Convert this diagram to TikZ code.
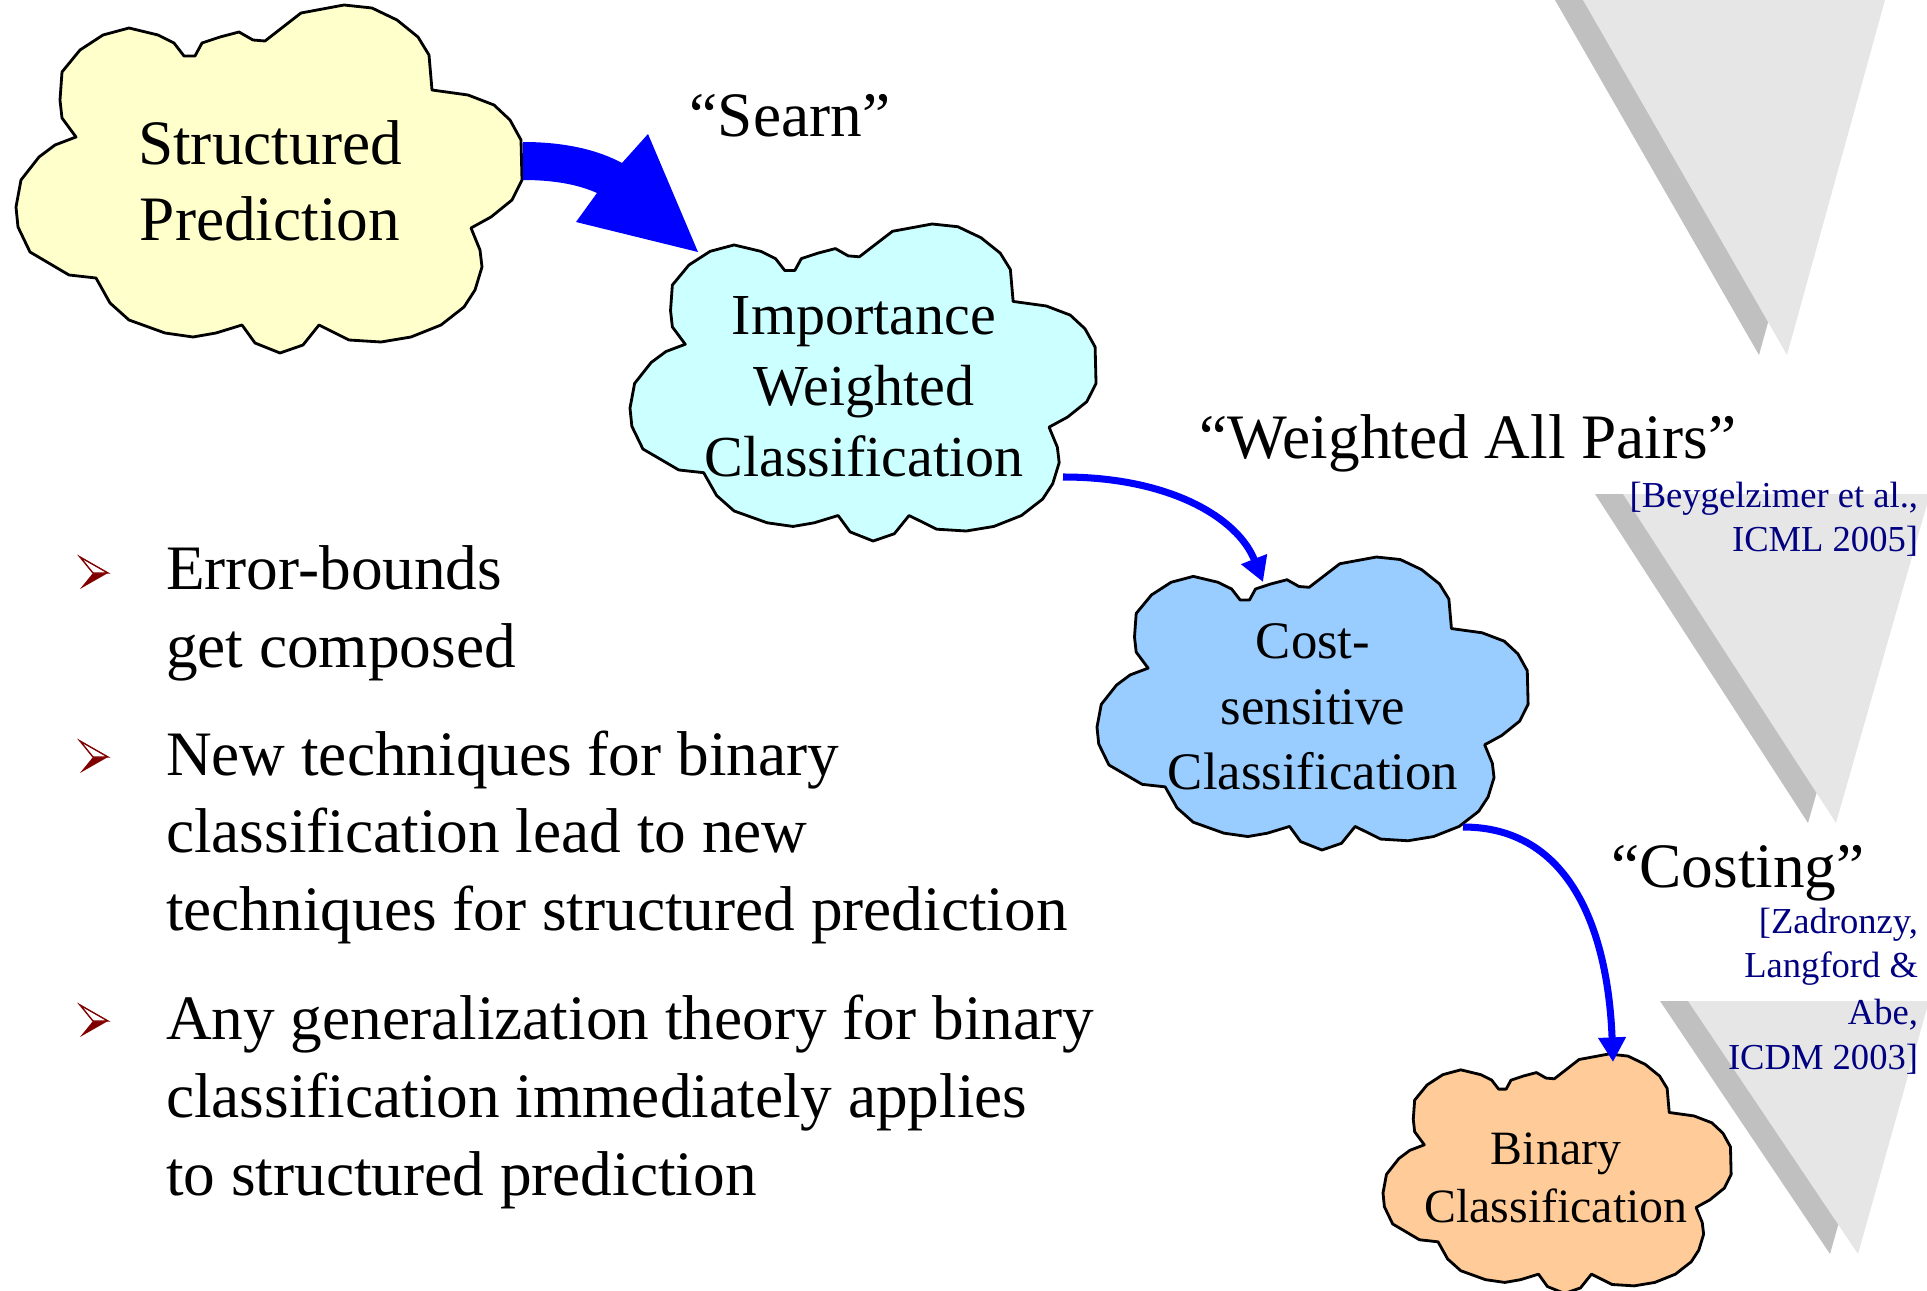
\documentclass[tikz,border=0pt]{standalone}
\usepackage{fontspec}
\setmainfont{Liberation Serif}
\usetikzlibrary{arrows.meta}
\definecolor{cyel}{HTML}{FFFFCC}
\definecolor{ccyan}{HTML}{CCFFFF}
\definecolor{cblue}{HTML}{99CCFF}
\definecolor{corange}{HTML}{FFCC99}
\definecolor{trilight}{HTML}{E6E6E6}
\definecolor{tridark}{HTML}{C0C0C0}
\definecolor{navy}{HTML}{000080}
\definecolor{bulred}{HTML}{800000}
\definecolor{arrblue}{HTML}{0000FF}
\newcommand{\drawcloud}[5]{%
  \begin{scope}[shift={(#1,#2)},xscale=#3,yscale=#4]
  \draw[cloudline,fill=#5] (46,67) -- (64,45) -- (87,30) -- (113,23) -- (142,30) -- (158,38) -- (168,51) -- (179,51) -- (186,38) -- (204,32) -- (223,27) -- (237,35) -- (249,36) -- (285,8) -- (328,0) -- (356,3) -- (381,15) -- (402,32) -- (413,50) -- (416,85) -- (452,90) -- (478,100) -- (494,115) -- (505,135) -- (506,175) -- (496,195) -- (475,212) -- (455,223) -- (464,245) -- (466,262) -- (459,285) -- (448,302) -- (425,320) -- (395,332) -- (365,337) -- (333,335) -- (303,320) -- (287,340) -- (264,348) -- (239,338) -- (226,320) -- (200,328) -- (177,332) -- (149,328) -- (113,315) -- (94,298) -- (80,273) -- (53,270) -- (14,247) -- (2,222) -- (0,202) -- (5,175) -- (23,152) -- (39,140) -- (60,132) -- (46,113) -- (44,95) -- cycle;
  \end{scope}}
\newcommand{\mybul}[1]{%
  \begin{scope}[shift={#1}]
  \fill[bulred] (-1,0) -- (14,0) -- (-14,16) -- cycle;
  \draw[bulred,line width=0.4pt,fill=white,line join=miter] (-14,-16) -- (14,0) -- (-1,0) -- cycle;
  \end{scope}}
\begin{document}
\begin{tikzpicture}[x=0.01cm,y=-0.01cm,
  cloudline/.style={draw=black,line width=0.8pt,line join=round},
  txt/.style={inner sep=0pt,outer sep=0pt},
  bigtxt/.style={txt,font=\fontsize{18pt}{22pt}\selectfont},
  iwtxt/.style={txt,font=\fontsize{16.5pt}{20pt}\selectfont},
  cstxt/.style={txt,font=\fontsize{15pt}{18pt}\selectfont},
  bctxt/.style={txt,font=\fontsize{13.6pt}{16pt}\selectfont},
  citetxt/.style={txt,font=\fontsize{10.4pt}{12.5pt}\selectfont,text=navy,anchor=base east},
  conn/.style={draw=arrblue,line width=2pt,-{Triangle[length=7pt,width=7.5pt]}}]
\useasboundingbox (0,0) rectangle (1927,1291);
\clip (0,0) rectangle (1927,1291);
% shadowed triangles
\fill[tridark] (1555,0) -- (1857,0) -- (1759,355) -- cycle;
\fill[trilight] (1583,0) -- (1885,0) -- (1787,355) -- cycle;
\fill[tridark] (1595,494) -- (1902,494) -- (1808,823) -- cycle;
\fill[trilight] (1623,494) -- (1930,494) -- (1836,823) -- cycle;
\fill[tridark] (1660,1001) -- (1901,1001) -- (1830,1254) -- cycle;
\fill[trilight] (1688,1001) -- (1929,1001) -- (1858,1254) -- cycle;
% clouds
\drawcloud{16}{5}{1}{1}{cyel}
\drawcloud{630}{224}{0.921}{0.911}{ccyan}
\drawcloud{1097}{557}{0.852}{0.842}{cblue}
\drawcloud{1383}{1054}{0.688}{0.688}{corange}
% cloud texts
\node[bigtxt,anchor=base] (sp1) at (270,165) {Structured};
\node[bigtxt,anchor=base] (sp2) at (270,241) {Prediction};
\node[iwtxt,anchor=base] (iw1) at (864,334) {Importance};
\node[iwtxt,anchor=base] (iw2) at (864,405) {Weighted};
\node[iwtxt,anchor=base] (iw3) at (864,476) {Classification};
\node[cstxt,anchor=base] (cs1) at (1313,658) {Cost-};
\node[cstxt,anchor=base] (cs2) at (1313,724) {sensitive};
\node[cstxt,anchor=base] (cs3) at (1313,789) {Classification};
\node[bctxt,anchor=base] (bc1) at (1556,1164) {Binary};
\node[bctxt,anchor=base] (bc2) at (1556,1222) {Classification};
% reduction names
\node[bigtxt,anchor=base] (q1) at (790,137) {“Searn”};
\node[bigtxt,anchor=base] (q2) at (1468,458) {“Weighted All Pairs”};
\node[bigtxt,anchor=base] (q3) at (1738,887) {“Costing”};
% citations
\node[citetxt] (c1) at (1918,507) {[Beygelzimer et al.,};
\node[citetxt] (c2) at (1918,551) {ICML 2005]};
\node[citetxt] (c3) at (1918,933) {[Zadronzy,};
\node[citetxt] (c4) at (1918,977) {Langford \&};
\node[citetxt] (c5) at (1918,1024) {Abe,};
\node[citetxt] (c6) at (1918,1069) {ICDM 2003]};
% bullets
\mybul{(94,573)}
\mybul{(94,757)}
\mybul{(94,1021)}
\node[bigtxt,anchor=base west] (b1a) at (166,589) {Error-bounds};
\node[bigtxt,anchor=base west] (b1b) at (166,667) {get composed};
\node[bigtxt,anchor=base west] (b2a) at (166,775) {New techniques for binary};
\node[bigtxt,anchor=base west] (b2b) at (166,852) {classification lead to new};
\node[bigtxt,anchor=base west] (b2c) at (166,930) {techniques for structured prediction};
\node[bigtxt,anchor=base west] (b3a) at (166,1039) {Any generalization theory for binary};
\node[bigtxt,anchor=base west] (b3b) at (166,1117) {classification immediately applies};
\node[bigtxt,anchor=base west] (b3c) at (166,1195) {to structured prediction};
% big block arrow (Searn)
\fill[arrblue] (523,142) .. controls (565,142) and (598,150) .. (622,163) -- (648,134) -- (698,252) -- (576,222) -- (597,193) .. controls (577,184) and (552,180) .. (523,180) -- cycle;
% thin arrows
\coordinate (a1s) at (1063,477);
\coordinate (a1e) at (1263,582);
\draw[conn] (a1s) .. controls (1170,477) and (1238,518) .. (a1e);
\coordinate (a2s) at (1463,827);
\coordinate (a2e) at (1613,1062);
\draw[conn] (a2s) .. controls (1570,827) and (1608,930) .. (a2e);
\end{tikzpicture}
\end{document}
